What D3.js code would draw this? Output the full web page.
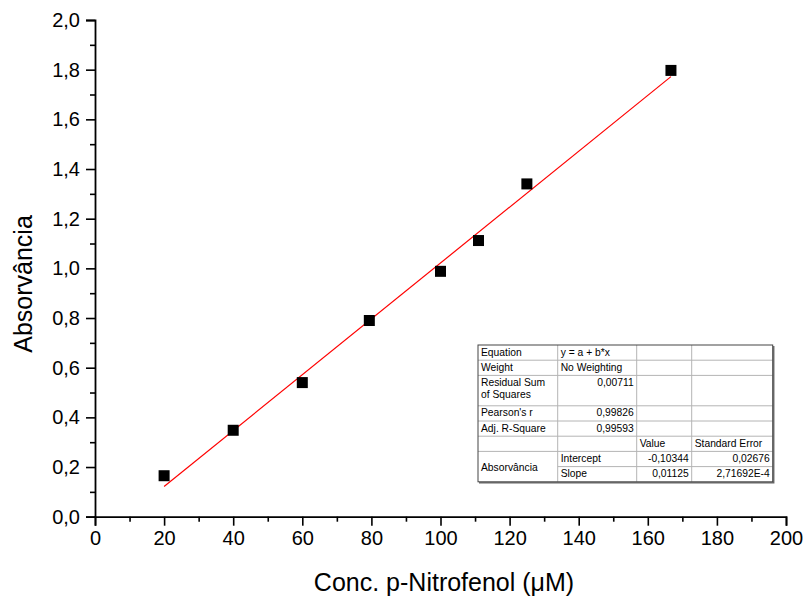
<!DOCTYPE html>
<html>
<head>
<meta charset="utf-8">
<script src="https://cdn.jsdelivr.net/npm/d3@7/dist/d3.min.js"></script>
<style>
  html, body { margin: 0; padding: 0; background: #fff; }
  svg { display: block; font-family: "Liberation Sans", Arial, sans-serif; }
</style>
</head>
<body>
<svg id="chart" width="806" height="598"></svg>
<script>
// Calibration curve: p-nitrophenol concentration vs. absorbance
const concentration = [20, 40, 60, 79.4, 100, 111, 125, 166.7];
const absorbance   = [0.165, 0.348, 0.540, 0.790, 0.988, 1.112, 1.340, 1.797];

// Linear fit results (y = a + b*x)
const fitIntercept = -0.10344;
const fitSlope = 0.01125;

const xTicks = [0, 20, 40, 60, 80, 100, 120, 140, 160, 180, 200];
const yTicks = [0, 0.2, 0.4, 0.6, 0.8, 1.0, 1.2, 1.4, 1.6, 1.8, 2.0];

// Fit statistics table (rows of 4 cells; null = merged)
const fitTableRows = [
  ["Equation", "y = a + b*x", "", ""],
  ["Weight", "No Weighting", "", ""],
  ["Residual Sum\nof Squares", "0,00711", "", ""],
  ["Pearson's r", "0,99826", "", ""],
  ["Adj. R-Square", "0,99593", "", ""],
  ["", "", "Value", "Standard Error"],
  ["Absorvância", "Intercept", "-0,10344", "0,02676"],
  [null, "Slope", "0,01125", "2,71692E-4"]
];
const fitRowUnits = [1, 1, 2, 1, 1, 1, 1, 1];

const svg = d3.select("#chart");

const x = d3.scaleLinear().domain([0, 200]).range([95, 786]);
const y = d3.scaleLinear().domain([0, 2]).range([516.7, 20]);

const fmt = d => d3.format(".1f")(d).replace(".", ",");

// Minor ticks
const xMinor = d3.range(10, 200, 20);
const yMinor = d3.range(0.1, 2, 0.2);

const gx = svg.append("g").attr("transform", `translate(0,${y(0)})`);
gx.call(d3.axisBottom(x).tickValues(xTicks).tickSize(9).tickPadding(5).tickFormat(d3.format("d")));
gx.append("g").call(d3.axisBottom(x).tickValues(xMinor).tickSize(5).tickFormat(""))
  .select(".domain").remove();

const gy = svg.append("g").attr("transform", `translate(${x(0)},0)`);
gy.call(d3.axisLeft(y).tickValues(yTicks).tickSize(9).tickPadding(6).tickFormat(fmt));
gy.append("g").call(d3.axisLeft(y).tickValues(yMinor).tickSize(5).tickFormat(""))
  .select(".domain").remove();

svg.selectAll(".domain").attr("stroke", "#000").attr("stroke-width", 1.8);
svg.selectAll(".tick line").attr("stroke", "#000").attr("stroke-width", 1.6);
svg.selectAll(".tick text").attr("font-size", 20).attr("fill", "#000")
  .attr("font-family", "'Liberation Sans', Arial, sans-serif");

// Axis titles
svg.append("text")
  .attr("x", 444).attr("y", 591)
  .attr("text-anchor", "middle")
  .attr("font-size", 25)
  .text("Conc. p-Nitrofenol (μM)");

svg.append("text")
  .attr("transform", `translate(32,${284}) rotate(-90)`)
  .attr("text-anchor", "middle")
  .attr("font-size", 25)
  .text("Absorvância");

// Fitted line across the data range
const xMin = d3.min(concentration), xMax = d3.max(concentration);
svg.append("line")
  .attr("x1", x(xMin)).attr("y1", y(fitIntercept + fitSlope * xMin))
  .attr("x2", x(xMax)).attr("y2", y(fitIntercept + fitSlope * xMax))
  .attr("stroke", "#ff0000").attr("stroke-width", 1.2);

// Data points as filled squares
const sq = 11;
svg.append("g").selectAll("rect")
  .data(concentration.map((c, i) => [c, absorbance[i]]))
  .join("rect")
  .attr("x", d => x(d[0]) - sq / 2)
  .attr("y", d => y(d[1]) - sq / 2)
  .attr("width", sq).attr("height", sq)
  .attr("fill", "#000");

// Fit statistics table
const tbl = { x: 478, y: 345, unit: 15.2 };
const colX = [478, 557.7, 636.7, 691.7, 772.7];
const tg = svg.append("g").attr("font-size", 10.3).attr("fill", "#000");

const rowTop = [];
let acc = tbl.y;
fitRowUnits.forEach(u => { rowTop.push(acc); acc += u * tbl.unit; });
const tblBottom = acc;

tg.append("rect")
  .attr("x", colX[0]).attr("y", tbl.y)
  .attr("width", colX[4] - colX[0]).attr("height", tblBottom - tbl.y)
  .attr("fill", "#fff");

// interior grid lines
const gridColor = "#b4b4b4";
fitTableRows.forEach((row, r) => {
  if (r === 0) return;
  const yy = rowTop[r];
  // the merged Absorvância cell has no line across column 0
  const x0 = row[0] === null ? colX[1] : colX[0];
  tg.append("line").attr("x1", x0).attr("x2", colX[4])
    .attr("y1", yy).attr("y2", yy).attr("stroke", gridColor).attr("stroke-width", 1);
});
colX.slice(1, 4).forEach(cx => {
  tg.append("line").attr("x1", cx).attr("x2", cx)
    .attr("y1", tbl.y).attr("y2", tblBottom).attr("stroke", gridColor).attr("stroke-width", 1);
});

// outer border with shadowed lower/right edges
tg.append("rect")
  .attr("x", colX[0]).attr("y", tbl.y)
  .attr("width", colX[4] - colX[0]).attr("height", tblBottom - tbl.y)
  .attr("fill", "none").attr("stroke", "#444").attr("stroke-width", 1);
tg.append("path")
  .attr("d", `M${colX[0] + 1},${tblBottom + 1}H${colX[4] + 1}V${tbl.y + 1}`)
  .attr("fill", "none").attr("stroke", "#666").attr("stroke-width", 1.5);

const isNum = s => /^-?[0-9]/.test(s);
fitTableRows.forEach((row, r) => {
  row.forEach((cell, c) => {
    if (cell === null || cell === "") return;
    let top = rowTop[r], h = fitRowUnits[r] * tbl.unit;
    if (c === 0 && r + 1 < fitTableRows.length && fitTableRows[r + 1][0] === null) {
      h += fitRowUnits[r + 1] * tbl.unit;
    }
    const lines = cell.split("\n");
    const right = isNum(cell) && c > 0;
    const tx = right ? colX[c + 1] - 3 : colX[c] + 3;
    const vCenter = c === 0 && h > tbl.unit * 1.5 && lines.length === 1;
    lines.forEach((ln, k) => {
      const base = vCenter ? top + h / 2 + 4 : top + 10.5 + k * 12;
      tg.append("text")
        .attr("x", tx).attr("y", base)
        .attr("text-anchor", right ? "end" : "start")
        .text(ln);
    });
  });
});
</script>
</body>
</html>
